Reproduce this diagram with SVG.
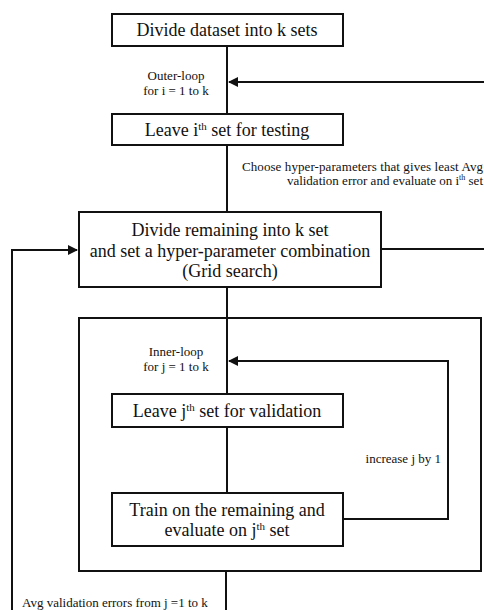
<svg xmlns="http://www.w3.org/2000/svg" width="484" height="610" viewBox="0 0 484 610">
<style>
.box{fill:#fff;stroke:#111;stroke-width:2}
.ln{fill:none;stroke:#111;stroke-width:2}
.t{font-family:"Liberation Serif","Times New Roman",serif;fill:#111;text-anchor:middle}
.big{font-size:18px}
.sm{font-size:13px}
.end{text-anchor:end}
.start{text-anchor:start}
</style>
<defs>
<marker id="ah" viewBox="0 0 10 10" refX="9" refY="5" markerWidth="5" markerHeight="5" orient="auto" markerUnits="strokeWidth">
<path d="M0,0 L10,5 L0,10 z" fill="#111"/>
</marker>
</defs>
<g id="connectors">
<line class="ln" x1="227" y1="46" x2="227" y2="114"/>
<line class="ln" x1="484" y1="82" x2="229" y2="82" marker-end="url(#ah)"/>
<line class="ln" x1="227" y1="145" x2="227" y2="212"/>
<line class="ln" x1="381" y1="249" x2="484" y2="249"/>
<polyline class="ln" points="12,610 12,250 77,250" marker-end="url(#ah)"/>
<line class="ln" x1="227" y1="287" x2="227" y2="394"/>
<line class="ln" x1="227" y1="427" x2="227" y2="493"/>
<polyline class="ln" points="343,519 448,519 448,361 229,361" marker-end="url(#ah)"/>
<line class="ln" x1="226" y1="571" x2="226" y2="610"/>
</g>
<g id="inner-loop-box">
<rect x="79" y="318" width="402" height="253" fill="none" stroke="#111" stroke-width="2"/>
</g>
<g id="n1">
<rect class="box" x="112" y="14" width="231" height="32"/>
<text class="t big" x="227" y="36">Divide dataset into k sets</text>
</g>
<g id="outer-label">
<text class="t sm" x="176" y="80">Outer-loop</text>
<text class="t sm" x="176" y="95">for i = 1 to k</text>
</g>
<g id="n2">
<rect class="box" x="112" y="114" width="231" height="31"/>
<text class="t big" x="227" y="136">Leave i<tspan font-size="11px" dy="-6">th</tspan><tspan dy="6"> set for testing</tspan></text>
</g>
<g id="choose-label">
<text class="t sm start" x="242" y="171" textLength="241" lengthAdjust="spacing">Choose hyper-parameters that gives least Avg</text>
<text class="t sm end" x="483" y="185">validation  error and evaluate  on i<tspan font-size="8px" dy="-5">th</tspan><tspan dy="5"> set</tspan></text>
</g>
<g id="n3">
<rect class="box" x="79" y="212" width="302" height="75"/>
<text class="t big" x="230" y="236">Divide remaining into k set</text>
<text class="t big" x="230" y="257">and set a hyper-parameter combination</text>
<text class="t big" x="230" y="277">(Grid search)</text>
</g>
<g id="inner-label">
<text class="t sm" x="176" y="356">Inner-loop</text>
<text class="t sm" x="176" y="371">for j = 1 to k</text>
</g>
<g id="n4">
<rect class="box" x="112" y="394" width="231" height="33"/>
<text class="t big" x="227" y="417">Leave j<tspan font-size="11px" dy="-6">th</tspan><tspan dy="6"> set for validation</tspan></text>
</g>
<g id="increase-label">
<text class="t sm end" x="441" y="463">increase j by 1</text>
</g>
<g id="n5">
<rect class="box" x="112" y="493" width="231" height="53"/>
<text class="t big" x="227" y="516">Train on the remaining and</text>
<text class="t big" x="227" y="536">evaluate on j<tspan font-size="11px" dy="-6">th</tspan><tspan dy="6"> set</tspan></text>
</g>
<g id="avg-label">
<text class="t sm start" x="22" y="607">Avg validation  errors from j =1 to k</text>
</g>
</svg>
